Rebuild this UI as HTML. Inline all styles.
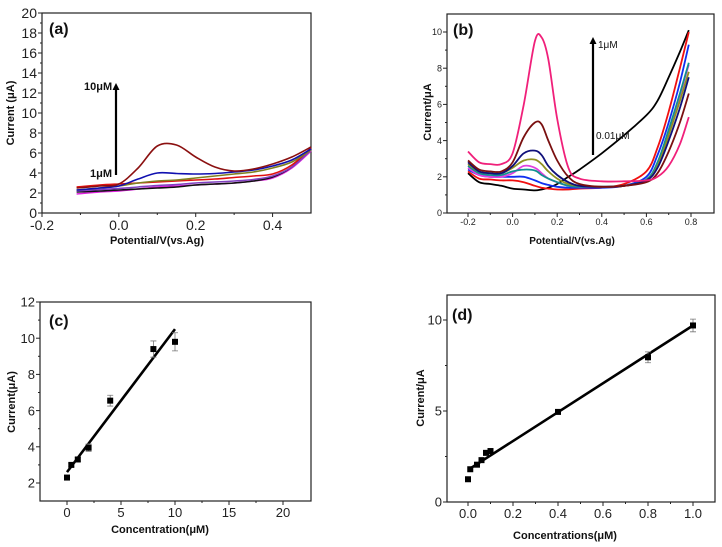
<!DOCTYPE html>
<html><head><meta charset="utf-8"><style>
body{margin:0;background:#fff;width:722px;height:547px;overflow:hidden}
svg{display:block;font-family:"Liberation Sans",Arial,sans-serif}
</style></head><body>
<svg id="fig" width="722" height="547"></svg>
<script>
// ---- Panel (a) data ----
const aX=[-0.11,-0.05,0,0.05,0.1,0.15,0.2,0.25,0.3,0.35,0.4,0.45,0.5];
const aDarkred=[2.5,2.7,2.9,4.5,6.7,6.8,5.6,4.6,4.2,4.4,4.9,5.6,6.6];
const aBlue=[2.3,2.5,2.7,3.4,4.0,3.95,3.9,3.95,4.1,4.3,4.7,5.3,6.4];
const aOlive=[2.3,2.5,2.7,3.0,3.2,3.3,3.5,3.7,3.9,4.1,4.5,5.1,6.3];
const aRed=[2.6,2.8,2.9,3.0,3.1,3.2,3.3,3.4,3.55,3.7,3.9,4.8,6.5];
const aPurple=[2.2,2.35,2.45,2.6,2.75,2.85,3.0,3.1,3.2,3.35,3.7,4.6,6.3];
const aBlack=[2.1,2.2,2.3,2.4,2.5,2.6,2.8,2.9,3.0,3.2,3.6,4.6,6.4];
const aMagenta=[1.9,2.1,2.2,2.4,2.6,2.7,2.8,2.9,3.0,3.2,3.5,4.5,6.2];
const aTicksX=[-0.2,0.0,0.2,0.4];
const aTicksY=[0,2,4,6,8,10,12,14,16,18,20];
// ---- Panel (b) data ----
const bX=[-0.2,-0.15,-0.1,-0.05,0,0.05,0.1,0.13,0.16,0.2,0.25,0.3,0.4,0.5,0.6,0.65,0.7,0.75,0.79];
const bPink=[3.4,2.8,2.7,2.7,3.3,6,9.5,9.7,8.5,5.2,2.5,1.9,1.75,1.75,1.8,2.0,2.6,3.8,5.3];
const bDarkred=[2.9,2.4,2.3,2.3,2.8,4.2,5.0,4.9,4.0,2.9,2.0,1.6,1.45,1.5,1.7,2.2,3.4,5.0,6.6];
const bNavy=[2.8,2.3,2.2,2.2,2.6,3.3,3.45,3.2,2.6,2.1,1.7,1.5,1.45,1.5,1.8,2.5,4,5.8,7.5];
const bOlive=[2.7,2.3,2.2,2.2,2.5,2.9,2.95,2.7,2.3,1.9,1.6,1.5,1.45,1.5,1.8,2.6,4.3,6.2,7.8];
const bTeal=[2.6,2.2,2.1,2.1,2.3,2.4,2.35,2.1,1.9,1.7,1.5,1.45,1.45,1.5,1.85,2.8,4.6,6.6,8.3];
const bMagenta=[2.5,2.1,2.0,2.0,2.2,2.6,2.5,2.2,1.9,1.7,1.5,1.45,1.45,1.5,1.8,2.7,4.5,6.5,8.2];
const bBlue=[2.4,2.1,2.0,2.0,2.0,2.0,1.8,1.65,1.55,1.45,1.4,1.4,1.4,1.5,2.0,3.2,5.0,7.2,9.3];
const bRed=[2.3,1.9,1.85,1.8,1.8,1.7,1.5,1.4,1.35,1.3,1.3,1.35,1.4,1.6,2.3,3.6,5.6,8.0,10.0];
const bBlack=[2.2,1.7,1.6,1.5,1.35,1.3,1.25,1.3,1.4,1.6,2.0,2.4,3.3,4.3,5.4,6.2,7.5,8.9,10.1];
const bTicksX=[-0.2,0.0,0.2,0.4,0.6,0.8];
const bTicksY=[0,2,4,6,8,10];
// ---- Panel (c) data ----
const cX=[0,0.4,1,2,4,8,10];
const cY=[2.3,3.0,3.3,3.95,6.55,9.4,9.8];
const cErr=[0,0.1,0.1,0.2,0.3,0.45,0.5];
const cFitX=[0,10];
const cFitY=[2.6,10.5];
const cTicksX=[0,5,10,15,20];
const cTicksY=[2,4,6,8,10,12];
// ---- Panel (d) data ----
const dX=[0,0.01,0.04,0.06,0.08,0.1,0.4,0.8,1.0];
const dY=[1.25,1.8,2.05,2.3,2.7,2.8,4.95,7.95,9.7];
const dErr=[0,0,0,0,0,0,0.1,0.3,0.35];
const dFitX=[0.005,1.0];
const dFitY=[1.8,9.7];
const dTicksX=[0.0,0.2,0.4,0.6,0.8,1.0];
const dTicksY=[0,5,10];

const NS='http://www.w3.org/2000/svg';
const svg=document.getElementById('fig');
function mk(tag,attrs,parent){const e=document.createElementNS(NS,tag);for(const k in attrs)e.setAttribute(k,attrs[k]);(parent||svg).appendChild(e);return e;}
function axis(x0,x1,px0,px1){return v=>px0+(v-x0)/(x1-x0)*(px1-px0);}

function panel(name,box,xs,ys,ticksX,ticksY,fmtX,fmtY,fs){
  const g=mk('g',{});
  
  
  const r=mk('rect',{x:box.l,y:box.t,width:box.r-box.l,height:box.b-box.t,fill:'none',stroke:'#222','stroke-width':1.2},g);
  
  
  ticksX.forEach(v=>{
    const x=xs(v);
    mk('line',{x1:x,y1:box.b,x2:x,y2:box.b+4,stroke:'#222'},g);
    const t=mk('text',{x:x,y:box.b+fs+3,'text-anchor':'middle','font-size':fs,fill:'#222'},g);
    t.textContent=fmtX(v);
    
    
  });
  ticksY.forEach(v=>{
    const y=ys(v);
    mk('line',{x1:box.l-4,y1:y,x2:box.l,y2:y,stroke:'#222'},g);
    const t=mk('text',{x:box.l-5,y:y+fs*0.36,'text-anchor':'end','font-size':fs,fill:'#222'},g);
    t.textContent=fmtY(v);
    
    
  });
  for(let i=0;i<ticksX.length-1;i++){const x=(xs(ticksX[i])+xs(ticksX[i+1]))/2;mk('line',{x1:x,y1:box.b,x2:x,y2:box.b+2,stroke:'#222'},g);}
  for(let i=0;i<ticksY.length-1;i++){const y=(ys(ticksY[i])+ys(ticksY[i+1]))/2;mk('line',{x1:box.l-2,y1:y,x2:box.l,y2:y,stroke:'#222'},g);}
  return g;
}
function smoothPath(P){
  let d='M'+P[0][0].toFixed(1)+','+P[0][1].toFixed(1);
  for(let i=0;i<P.length-1;i++){
    const p0=P[i-1]||P[i],p1=P[i],p2=P[i+1],p3=P[i+2]||P[i+1];
    const c1=[p1[0]+(p2[0]-p0[0])/6,p1[1]+(p2[1]-p0[1])/6];
    const c2=[p2[0]-(p3[0]-p1[0])/6,p2[1]-(p3[1]-p1[1])/6];
    d+='C'+c1.map(v=>v.toFixed(1)).join(',')+' '+c2.map(v=>v.toFixed(1)).join(',')+' '+p2[0].toFixed(1)+','+p2[1].toFixed(1);
  }
  return d;
}
function curve(g,X,Y,xs,ys,color,name,w,smooth){
  const P=X.map((x,i)=>[xs(x),ys(Y[i])]);
  const d=smooth?smoothPath(P):P.map((p,i)=>(i?'L':'M')+p[0].toFixed(1)+','+p[1].toFixed(1)).join('');
  const p=mk('path',{d:d,fill:'none',stroke:color,'stroke-width':w||1.6,'stroke-linejoin':'round'},g);
  
  
}
function label(txt,x,y,fs,opts){
  const t=mk('text',Object.assign({x:x,y:y,'font-size':fs,fill:'#111'},opts||{}));
  t.textContent=txt;return t;
}
function arrow(x,y1,y2,name){
  const l=mk('line',{x1:x,y1:y1,x2:x,y2:y2+6,stroke:'#000','stroke-width':2.2});
  
  
  mk('polygon',{points:`${x-3.5},${y2+7} ${x+3.5},${y2+7} ${x},${y2}`,fill:'#000'});
}

// Panel A
(function(){
  const box={l:42,r:311,t:13,b:213};
  const xs=axis(-0.2,0.5,42,311), ys=axis(0,20,213,13);
  const g=panel('panel-a',box,xs,ys,aTicksX,aTicksY,v=>v.toFixed(1),v=>String(v),14);
  [[aMagenta,'#e020e0'],[aBlack,'#111'],[aPurple,'#8040c0'],[aRed,'#e01010'],[aOlive,'#808020'],[aBlue,'#1010b0'],[aDarkred,'#8b1010']]
    .forEach((c,i)=>curve(g,aX,c[0],xs,ys,c[1],'series-a-'+i,1.6,true));
  arrow(116,175,83,'arrow-a');
  let t=label('10μM',84,90,11,{'font-weight':'bold'});
  t=label('1μM',90,177,11,{'font-weight':'bold'});
  t=label('(a)',49,34,16,{'font-weight':'bold'});
  t=label('Potential/V(vs.Ag)',157,244,11,{'font-weight':'bold','text-anchor':'middle'});
  t=label('Current (μA)',0,0,11,{'font-weight':'bold','text-anchor':'middle',transform:'translate(14,113) rotate(-90)'});
})();
// Panel B
(function(){
  const box={l:447,r:714,t:14,b:213};
  const xs=axis(-0.2,0.8,468,691), ys=axis(0,10,213,32);
  const g=panel('panel-b',box,xs,ys,bTicksX,bTicksY,v=>v.toFixed(1),v=>String(v),9);
  [[bBlack,'#000'],[bRed,'#f01010'],[bBlue,'#1030f0'],[bMagenta,'#e040e0'],[bTeal,'#109090'],[bOlive,'#909020'],[bNavy,'#10107a'],[bDarkred,'#7a1010'],[bPink,'#f0207a']]
    .forEach((c,i)=>curve(g,bX,c[0],xs,ys,c[1],'series-b-'+i,1.8,true));
  arrow(593,155,37,'arrow-b');
  let t=label('1μM',598,48,10);
  t=label('0.01μM',596,139,10);
  t=label('(b)',453,35,16,{'font-weight':'bold'});
  t=label('Potential/V(vs.Ag)',572,244,10,{'font-weight':'bold','text-anchor':'middle'});
  t=label('Current/μA',0,0,11,{'font-weight':'bold','text-anchor':'middle',transform:'translate(431,112) rotate(-90)'});
})();
function scatterPanel(id,box,xs,ys,X,Y,E,FX,FY){
  const g=svg.lastChild;
  curve(g,FX,FY,xs,ys,'#000','fit-line-'+id,2.6,false);
  X.forEach((x,i)=>{
    if(E[i]>0){
      const eb=mk('path',{d:`M${xs(x)},${ys(Y[i]-E[i])}V${ys(Y[i]+E[i])}M${xs(x)-3},${ys(Y[i]-E[i])}h6M${xs(x)-3},${ys(Y[i]+E[i])}h6`,stroke:'#777','stroke-width':0.8,fill:'none'},g);
      
      
    }
    const p=mk('rect',{x:xs(x)-3,y:ys(Y[i])-3,width:6,height:6,fill:'#000'},g);
    
    
  });
}
// Panel C
(function(){
  const box={l:40,r:311,t:302,b:501};
  const xs=axis(0,20,67,283), ys=axis(2,12,483,302);
  panel('panel-c',box,xs,ys,cTicksX,cTicksY,v=>String(v),v=>String(v),13);
  scatterPanel('c',box,xs,ys,cX,cY,cErr,cFitX,cFitY);
  let t=label('(c)',49,326,16,{'font-weight':'bold'});
  t=label('Concentration(μM)',160,533,11,{'font-weight':'bold','text-anchor':'middle'});
  t=label('Current(μA)',0,0,11,{'font-weight':'bold','text-anchor':'middle',transform:'translate(15,402) rotate(-90)'});
})();
// Panel D
(function(){
  const box={l:447,r:715,t:295,b:502};
  const xs=axis(0,1,468,693), ys=axis(0,10,502,320);
  panel('panel-d',box,xs,ys,dTicksX,dTicksY,v=>v.toFixed(1),v=>String(v),13);
  scatterPanel('d',box,xs,ys,dX,dY,dErr,dFitX,dFitY);
  let t=label('(d)',452,320,16,{'font-weight':'bold'});
  t=label('Concentrations(μM)',565,539,11,{'font-weight':'bold','text-anchor':'middle'});
  t=label('Current/μA',0,0,11,{'font-weight':'bold','text-anchor':'middle',transform:'translate(424,398) rotate(-90)'});
})();
</script>
</body></html>
